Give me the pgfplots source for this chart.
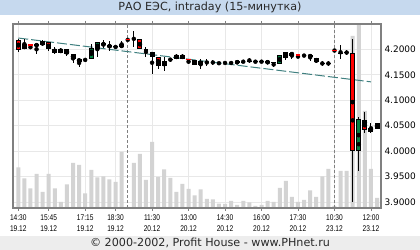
\documentclass[border=0pt]{standalone}
\usepackage{pgfplots}
\pgfplotsset{compat=1.18}
\usepackage{pgfplotstable}
\usepackage{fontspec}
\setmainfont{DejaVu Sans}
\newfontfamily\narrowfont[FakeStretch=0.8]{Liberation Sans}
\definecolor{titlebg}{RGB}{198,217,238}
\definecolor{footbg}{RGB}{237,237,237}
\definecolor{gridc}{RGB}{232,232,232}
\definecolor{framec}{RGB}{128,128,128}
\definecolor{volc}{RGB}{211,211,211}
\definecolor{upc}{RGB}{0,128,64}
\definecolor{dnc}{RGB}{255,0,0}
\definecolor{trendc}{RGB}{64,128,128}
\definecolor{txtc}{RGB}{40,40,40}

% c: 1 = rising body, 2 = falling body, 3 = black doji, 4 = red doji
\pgfplotstableread{
i  O     H     L     C     c  V
0  4.219 4.220 4.196 4.199 2  40.7
1  4.200 4.221 4.200 4.210 1  29.7
2  4.209 4.209 4.200 4.209 4  19.7
3  4.210 4.210 4.191 4.207 2  34
4  4.208 4.219 4.206 4.216 1  16
5  4.214 4.215 4.198 4.200 2  34
6  4.200 4.204 4.191 4.194 2  19.7
7  4.194 4.202 4.194 4.200 1  6
8  4.200 4.200 4.188 4.191 2  23.7
9  4.191 4.191 4.174 4.181 2  45
10 4.176 4.181 4.166 4.181 1  43
11 4.180 4.184 4.175 4.180 3  14.7
12 4.181 4.210 4.181 4.203 1  38
13 4.200 4.215 4.186 4.214 1  30.7
14 4.212 4.218 4.203 4.208 2  31.7
15 4.209 4.216 4.197 4.204 2  28.7
16 4.206 4.208 4.202 4.206 3  26
17 4.204 4.216 4.204 4.210 1  56
18 4.219 4.219 4.219 4.219 4  1
19 4.219 4.237 4.205 4.219 3  45
20 4.221 4.221 4.200 4.200 2  54
21 4.199 4.204 4.186 4.199 3  28
22 4.196 4.196 4.152 4.186 2  66
23 4.185 4.185 4.161 4.168 2  31
24 4.168 4.185 4.157 4.178 1  38.7
25 4.180 4.184 4.176 4.180 3  30
26 4.181 4.191 4.181 4.190 1  16
27 4.190 4.191 4.181 4.181 2  24
28 4.181 4.181 4.171 4.181 4  19
29 4.179 4.179 4.169 4.169 2  12.7
30 4.170 4.181 4.161 4.177 1  18.7
31 4.175 4.181 4.168 4.175 3  9
32 4.175 4.179 4.170 4.175 3  8.7
33 4.175 4.176 4.170 4.175 3  4.3
34 4.175 4.177 4.170 4.175 3  4
35 4.175 4.178 4.169 4.175 3  7
36 4.177 4.177 4.173 4.173 2  3
37 4.175 4.179 4.173 4.175 3  7
38 4.177 4.183 4.174 4.177 3  5.7
39 4.176 4.178 4.174 4.176 3  2
40 4.176 4.178 4.174 4.176 3  3
41 4.177 4.177 4.173 4.173 2  7
42 4.175 4.176 4.165 4.175 3  6
43 4.172 4.189 4.171 4.189 1  20
44 4.183 4.195 4.179 4.195 1  27
45 4.194 4.194 4.182 4.188 2  11
46 4.189 4.189 4.183 4.189 4  6
47 4.188 4.191 4.185 4.188 3  8
48 4.189 4.191 4.178 4.185 2  17.7
49 4.183 4.183 4.173 4.175 2  11
50 4.173 4.177 4.168 4.173 3  31.7
51 4.173 4.177 4.168 4.173 3  39
52 4.198 4.198 4.198 4.198 4  2
53 4.192 4.208 4.181 4.192 3  37
54 4.194 4.199 4.189 4.194 3  37
55 4.193 4.221 3.900 4.000 2  172
56 4.000 4.067 3.960 4.063 1  184
57 4.061 4.077 4.036 4.041 2  97
58 4.038 4.055 4.035 4.046 1  39
59 4.044 4.055 4.043 4.055 1  10
}\candles

\pgfplotsset{
  base/.style={at={(13bp,42bp)}, anchor=south west, scale only axis,
    width=368bp, height=184bp, xmin=-0.87, xmax=59.65},
  price/.style={ymin=3.888, ymax=4.2502},
}

\begin{document}
\begin{tikzpicture}
\path[use as bounding box] (0bp,0bp) rectangle (420bp,250bp);
\fill[titlebg] (0bp,235bp) rectangle (420bp,250bp);
\node[text=txtc, font=\fontsize{11.2}{13}\selectfont, inner sep=0pt] at (210bp,242.3bp) {РАО ЕЭС, intraday (15-минутка)};
\fill[footbg] (0bp,0bp) rectangle (420bp,14bp);
\node[text=txtc, font=\fontsize{11.2}{13}\selectfont, inner sep=0pt] at (210bp,6.8bp) {© 2000-2002, Profit House - www.PHnet.ru};

% grid and tick labels
\begin{axis}[base, price,
  axis line style={draw=none},
  grid=major, major grid style={gridc, line width=0.8bp},
  xtick={0,5,11,16,22,28,34,40,46,52,58},
  xticklabels={{14:30\\19.12},{15:45\\19.12},{17:15\\19.12},{18:30\\19.12},{11:30\\20.12},{13:00\\20.12},{14:30\\20.12},{16:00\\20.12},{17:30\\20.12},{10:30\\23.12},{12:00\\23.12}},
  xticklabel style={align=center, font=\narrowfont\fontsize{8.3}{11.6}\selectfont, text=black},
  tick align=outside, major tick length=3bp,
  xtick style={framec, line width=0.8bp},
  ytick={3.9,3.95,4.0,4.05,4.1,4.15,4.2},
  yticklabels={3.9000,3.9500,4.0000,4.0500,4.1000,4.1500,4.2000},
  yticklabel pos=right,
  ytick style={draw=none},
  yticklabel style={font=\fontsize{9}{10}\selectfont, text=black, xshift=-3bp},
]
\end{axis}

% volume
\begin{axis}[base, hide axis, ymin=0, ymax=184, ybar, bar width=4bp]
\addplot[fill=volc, draw=none] table[x=i, y=V] \candles;
\end{axis}

% price
\begin{axis}[base, price, xtick=\empty, ytick=\empty,
  axis line style={framec, line width=1.2bp}]
\addplot[framec, line width=0.8bp, dash pattern=on 3bp off 2bp] coordinates {(18,3.8) (18,4.3)};
\addplot[framec, line width=0.8bp, dash pattern=on 3bp off 2bp] coordinates {(52,3.8) (52,4.3)};
\addplot[trendc, line width=1bp, dash pattern=on 10bp off 3bp] coordinates {(0,4.2226) (58,4.1363)};
% wicks
\addplot[only marks, mark=none, error bars/.cd, y dir=both, y explicit, error mark=none,
  error bar style={black, line width=1bp}]
  table[x=i, y expr={0.5*(\thisrow{H}+\thisrow{L})}, y error expr={0.5*(\thisrow{H}-\thisrow{L})}] \candles;
% body outlines
\addplot[only marks, mark=none, error bars/.cd, y dir=both, y explicit, error mark=none,
  error bar style={black, line width=5bp}]
  table[x=i, y expr={\thisrow{c}<3 ? 0.5*(\thisrow{O}+\thisrow{C}) : nan}, y error expr={0.5*abs(\thisrow{O}-\thisrow{C})}] \candles;
% falling bodies
\addplot[only marks, mark=none, error bars/.cd, y dir=both, y explicit, error mark=none,
  error bar style={dnc, line width=3bp}]
  table[x=i, y expr={\thisrow{c}==2 ? 0.5*(\thisrow{O}+\thisrow{C}) : nan}, y error expr={max(0.5*abs(\thisrow{O}-\thisrow{C})-0.002,0)}] \candles;
% rising bodies
\addplot[only marks, mark=none, error bars/.cd, y dir=both, y explicit, error mark=none,
  error bar style={upc, line width=3bp}]
  table[x=i, y expr={\thisrow{c}==1 ? 0.5*(\thisrow{O}+\thisrow{C}) : nan}, y error expr={max(0.5*abs(\thisrow{O}-\thisrow{C})-0.002,0)}] \candles;
% dojis
\addplot[only marks, mark=-, mark size=2.2bp, mark options={black, line width=1.2bp}]
  table[x=i, y expr={\thisrow{c}==3 ? \thisrow{C} : nan}] \candles;
\addplot[only marks, mark=-, mark size=2.2bp, mark options={dnc, line width=1.2bp}]
  table[x=i, y expr={\thisrow{c}==4 ? \thisrow{C} : nan}] \candles;
\end{axis}
\end{tikzpicture}
\end{document}
